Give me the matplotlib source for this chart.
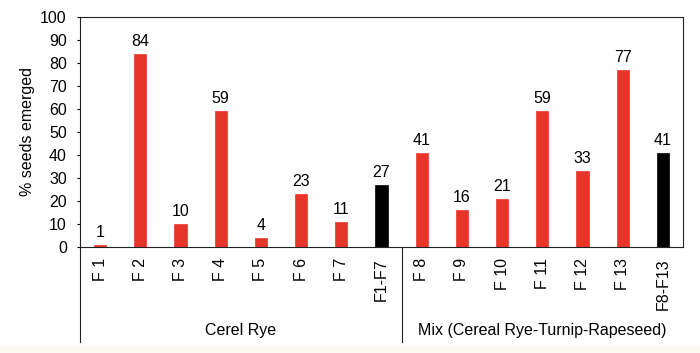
import matplotlib
matplotlib.use("Agg")
import matplotlib.pyplot as plt
import matplotlib.transforms as mtransforms
from matplotlib.patches import Rectangle

plt.rcParams['font.family'] = ['Liberation Sans', 'DejaVu Sans']

categories = ["F 1", "F 2", "F 3", "F 4", "F 5", "F 6", "F 7", "F1-F7",
              "F 8", "F 9", "F 10", "F 11", "F 12", "F 13", "F8-F13"]
values = [1, 84, 10, 59, 4, 23, 11, 27, 41, 16, 21, 59, 33, 77, 41]
labels = ["1", "84", "10", "59", "4", "23", "11", "27", "41", "16", "21", "59", "33", "77", "41"]
is_mean = [False]*7 + [True] + [False]*6 + [True]
groups = ["Cerel Rye", "Mix (Cereal Rye-Turnip-Rapeseed)"]
group_spans = [(-0.5, 7.5), (7.5, 14.5)]

RED = "#E8352A"
fig = plt.figure(figsize=(7.0, 3.53), dpi=100)
fig.patch.set_facecolor("white")
fig.patches.append(Rectangle((0, 0), 1, 6/353, transform=fig.transFigure,
                             facecolor="#FCF9F2", edgecolor="none", zorder=-1))
ax = fig.add_axes([80/700, 1-247/353, 603/700, 230/353])

x = list(range(len(categories)))
colors = ["black" if m else RED for m in is_mean]
bars = ax.bar(x, values, width=0.3, color=colors, edgecolor=colors, linewidth=0.5)
for xi, v, lab in zip(x, values, labels):
    ax.annotate(lab, (xi, v), xytext=(0, 3.5), textcoords="offset points",
                ha="center", va="bottom", fontsize=11.5)

ax.set_xlim(-0.5, 14.5)
ax.set_ylim(0, 100)
ax.set_yticks(range(0, 101, 10))
ax.tick_params(axis="y", direction="out", length=2.5, labelsize=11.5, pad=7)
ax.set_xticks(x)
ax.set_xticklabels(categories, rotation=90, fontsize=11.5)
ax.tick_params(axis="x", length=0, pad=8)
for s in ax.spines.values():
    s.set_linewidth(0.8)
    s.set_color("#222222")
ax.set_ylabel("% seeds emerged", fontsize=11.5, labelpad=4)

trans = mtransforms.blended_transform_factory(ax.transData, ax.transAxes)
ylow = -(342-247)/230
for xs in [-0.5, 7.5]:
    ax.plot([xs, xs], [0, ylow], transform=trans, color="#222222", lw=0.8, clip_on=False)
for g, (a, b) in zip(groups, group_spans):
    ax.text((a+b)/2, -(330-247)/230, g, transform=trans, ha="center", va="center", fontsize=11.5)

fig.savefig("out.png", dpi=100)
